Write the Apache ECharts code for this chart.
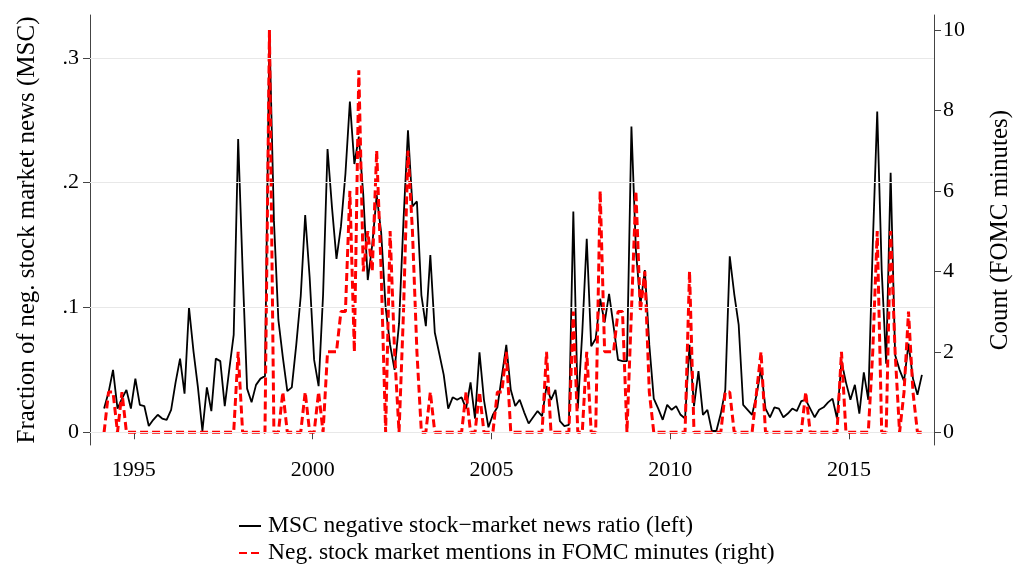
<!DOCTYPE html>
<html>
<head>
<meta charset="utf-8">
<script src="https://cdn.jsdelivr.net/npm/echarts@6/dist/echarts.min.js"></script>
<style>
  html, body { margin: 0; padding: 0; background: #fff; }
  #chart { width: 1018px; height: 571px; }
</style>
</head>
<body>
<div id="chart"></div>
<script>
  // FOMC minutes, 8 per year, 1994-2016
  var years = [1994, 1995, 1996, 1997, 1998, 1999, 2000, 2001, 2002, 2003, 2004, 2005,
    2006, 2007, 2008, 2009, 2010, 2011, 2012, 2013, 2014, 2015, 2016]
  var meetingOffsets = [0.167, 0.292, 0.417, 0.542, 0.667, 0.792, 0.917, 1.042]

  // MSC negative stock-market news ratio (left axis)
  var mscRatio = [
    0.019, 0.032, 0.050, 0.019, 0.027, 0.034, 0.019, 0.043, // 1994
    0.022, 0.021, 0.005, 0.010, 0.014, 0.011, 0.010, 0.018, // 1995
    0.040, 0.059, 0.031, 0.100, 0.065, 0.036, 0.001, 0.036, // 1996
    0.017, 0.059, 0.057, 0.021, 0.050, 0.078, 0.235, 0.130, // 1997
    0.035, 0.024, 0.038, 0.043, 0.045, 0.322, 0.170, 0.090, // 1998
    0.060, 0.033, 0.036, 0.070, 0.109, 0.174, 0.124, 0.058, // 1999
    0.037, 0.110, 0.227, 0.180, 0.139, 0.165, 0.207, 0.265, // 2000
    0.215, 0.237, 0.190, 0.122, 0.150, 0.190, 0.160, 0.100, // 2001
    0.070, 0.050, 0.087, 0.170, 0.242, 0.181, 0.185, 0.110, // 2002
    0.085, 0.142, 0.080, 0.063, 0.046, 0.019, 0.028, 0.026, // 2003
    0.028, 0.019, 0.040, 0.011, 0.064, 0.026, 0.004, 0.014, // 2004
    0.020, 0.045, 0.070, 0.034, 0.021, 0.026, 0.016, 0.007, // 2005
    0.012, 0.017, 0.013, 0.037, 0.026, 0.034, 0.009, 0.005, // 2006
    0.006, 0.177, 0.019, 0.080, 0.155, 0.069, 0.075, 0.107, // 2007
    0.088, 0.111, 0.085, 0.058, 0.057, 0.057, 0.245, 0.146, // 2008
    0.102, 0.130, 0.070, 0.027, 0.019, 0.010, 0.022, 0.018, // 2009
    0.021, 0.014, 0.011, 0.070, 0.021, 0.049, 0.014, 0.018, // 2010
    0.001, 0.001, 0.015, 0.034, 0.141, 0.111, 0.086, 0.022, // 2011
    0.018, 0.014, 0.030, 0.051, 0.019, 0.012, 0.020, 0.019, // 2012
    0.012, 0.015, 0.019, 0.017, 0.025, 0.026, 0.019, 0.012, // 2013
    0.018, 0.020, 0.024, 0.027, 0.011, 0.057, 0.040, 0.026, // 2014
    0.038, 0.015, 0.048, 0.026, 0.150, 0.257, 0.130, 0.055, // 2015
    0.208, 0.062, 0.050, 0.041, 0.071, 0.043, 0.030, 0.046  // 2016
  ]

  // negative stock market mentions in FOMC minutes (right axis)
  var fomcCount = [
    0, 1, 1, 0, 1, 0, 0, 0, // 1994
    0, 0, 0, 0, 0, 0, 0, 0, // 1995
    0, 0, 0, 0, 0, 0, 0, 0, // 1996
    0, 0, 0, 0, 0, 0, 2, 0, // 1997
    0, 0, 0, 0, 0, 10, 0, 0, // 1998
    1, 0, 0, 0, 0, 1, 0, 0, // 1999
    1, 0, 2, 2, 2, 3, 3, 6, // 2000
    2, 9, 4, 5, 4, 7, 4, 0, // 2001
    5, 2, 0, 3, 7, 5, 2, 0, // 2002
    0, 1, 0, 0, 0, 0, 0, 0, // 2003
    0, 1, 0, 0, 1, 0, 0, 0, // 2004
    1, 1, 2, 0, 0, 0, 0, 0, // 2005
    0, 0, 0, 2, 0, 0, 0, 0, // 2006
    0, 3, 0, 0, 2, 0, 0, 6, // 2007
    2, 2, 2, 3, 3, 0, 3, 6, // 2008
    3, 4, 1, 0, 0, 0, 0, 0, // 2009
    0, 0, 0, 4, 0, 0, 0, 0, // 2010
    0, 0, 0, 1, 1, 0, 0, 0, // 2011
    0, 0, 1, 2, 0, 0, 0, 0, // 2012
    0, 0, 0, 0, 0, 1, 0, 0, // 2013
    0, 0, 0, 0, 0, 2, 0, 0, // 2014
    0, 0, 0, 0, 2, 5, 0, 0, // 2015
    5, 2, 0, 1, 3, 1, 0, 0  // 2016
  ]

  var yearTicks = [1995, 2000, 2005, 2010, 2015]
  var leftTicks = [0, 0.1, 0.2, 0.3]
  var rightTicks = [0, 2, 4, 6, 8, 10]

  var mscName = 'MSC negative stock\u2212market news ratio (left)'
  var fomcName = 'Neg. stock market mentions in FOMC minutes (right)'

  var dates = []
  years.forEach(function (y) {
    meetingOffsets.forEach(function (o) { dates.push(y + o) })
  })
  var mscData = dates.map(function (d, i) { return [d, mscRatio[i]] })
  var fomcData = dates.map(function (d, i) { return [d, fomcCount[i]] })

  var font = '"Liberation Serif", "DejaVu Serif", serif'
  var axisColor = '#444'

  var chart = echarts.init(document.getElementById('chart'))
  var option = {
    animation: false,
    backgroundColor: '#fff',
    textStyle: { fontFamily: font, color: '#000' },
    grid: { left: 90, right: 84, top: 15, bottom: 126, containLabel: false, outerBoundsMode: 'none' },
    legend: {
      data: [mscName, fomcName],
      orient: 'vertical',
      left: 233,
      top: 509,
      itemWidth: 22,
      itemHeight: 12,
      itemGap: 3,
      itemStyle: { opacity: 0 },
      textStyle: { fontFamily: font, fontSize: 23.5, color: '#000', padding: [0, 0, 0, 2] }
    },
    xAxis: {
      type: 'value',
      min: 1993.773,
      max: 2017.38,
      axisLine: { show: true, lineStyle: { color: axisColor, width: 1 } },
      axisTick: { show: true, length: 7, customValues: yearTicks, lineStyle: { color: axisColor } },
      axisLabel: {
        customValues: yearTicks, margin: 14, fontSize: 22, color: '#000', fontFamily: font,
        formatter: function (v) { return String(v) }
      },
      splitLine: { show: false }
    },
    yAxis: [
      {
        type: 'value',
        position: 'left',
        min: -0.0102,
        max: 0.3344,
        name: 'Fraction of neg. stock market news (MSC)',
        nameLocation: 'middle',
        nameRotate: 90,
        nameGap: 50,
        nameTextStyle: { fontFamily: font, fontSize: 25, color: '#000' },
        axisLine: { show: true, lineStyle: { color: axisColor, width: 1 } },
        axisTick: { show: true, length: 7, customValues: leftTicks, lineStyle: { color: axisColor } },
        axisLabel: {
          customValues: leftTicks, margin: 11, fontSize: 22, color: '#000', fontFamily: font,
          formatter: function (v) { return v === 0 ? '0' : String(+v.toFixed(1)).replace('0.', '.') }
        },
        splitLine: { show: false }
      },
      {
        type: 'value',
        position: 'right',
        min: -0.316,
        max: 10.373,
        name: 'Count (FOMC minutes)',
        nameLocation: 'middle',
        nameRotate: 90,
        nameGap: 54,
        nameTextStyle: { fontFamily: font, fontSize: 25, color: '#000' },
        axisLine: { show: true, lineStyle: { color: axisColor, width: 1 } },
        axisTick: { show: true, length: 7, customValues: rightTicks, lineStyle: { color: axisColor } },
        axisLabel: {
          customValues: rightTicks, margin: 9, fontSize: 22, color: '#000', fontFamily: font
        },
        splitLine: { show: false }
      }
    ],
    series: [
      {
        name: 'gridlines',
        type: 'line',
        yAxisIndex: 0,
        data: [],
        z: 1,
        silent: true,
        markLine: {
          silent: true,
          symbol: 'none',
          label: { show: false },
          lineStyle: { color: '#e8e8e8', width: 1, type: 'solid' },
          data: leftTicks.map(function (v) { return { yAxis: v } })
        }
      },
      {
        name: mscName,
        type: 'line',
        yAxisIndex: 0,
        data: mscData,
        showSymbol: false,
        symbol: 'none',
        z: 3,
        lineStyle: { color: '#000', width: 1.8 },
        itemStyle: { color: '#000' }
      },
      {
        name: fomcName,
        type: 'line',
        yAxisIndex: 1,
        data: fomcData,
        showSymbol: false,
        symbol: 'none',
        z: 4,
        lineStyle: { color: '#ff0000', width: 3, type: [8, 4] },
        itemStyle: { color: '#ff0000' }
      }
    ]
  }
  chart.setOption(option)
  window.addEventListener('resize', function () {
    chart.resize()
  })
</script>
</body>
</html>
